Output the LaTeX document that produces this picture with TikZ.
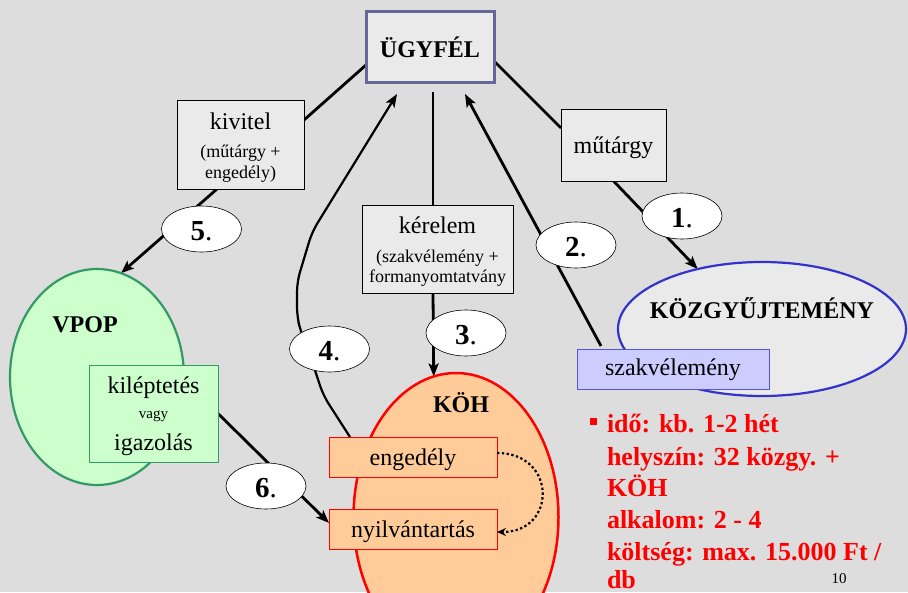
\documentclass[tikz,border=0pt]{standalone}
\usepackage{fontspec}
\setmainfont{Liberation Serif}
\usetikzlibrary{arrows.meta,shapes.geometric,calc}
\definecolor{bgc}{HTML}{DDDDDD}
\definecolor{boxc}{HTML}{EAEAEA}
\definecolor{ugyc}{HTML}{666699}
\definecolor{kozc}{HTML}{3333CC}
\definecolor{szakc}{HTML}{CCCCFF}
\definecolor{szakd}{HTML}{5555CC}
\definecolor{vpopc}{HTML}{CCFFCC}
\definecolor{vpopd}{HTML}{339966}
\definecolor{kohc}{HTML}{FFCC99}
\definecolor{redc}{HTML}{FF0000}
\pgfdeclarelayer{bglayer}
\pgfdeclarelayer{lines}
\pgfsetlayers{bglayer,lines,main}
\begin{document}
\begin{tikzpicture}[x=1pt,y=-1pt,
  every node/.style={inner sep=0pt, outer sep=0pt},
  box/.style={rectangle, draw=black, line width=0.8pt, fill=boxc},
  lab/.style={ellipse, draw=black, line width=0.6pt, fill=white, minimum width=80pt, minimum height=46pt},
  txt/.style={anchor=base, font=\fontsize{24}{28}\selectfont},
  btxt/.style={anchor=base, font=\bfseries\fontsize{24}{28}\selectfont},
  stxt/.style={anchor=base, font=\fontsize{18}{20}\selectfont},
  num/.style={anchor=base, font=\fontsize{29}{32}\selectfont},
  conn/.style={line width=2.8pt, draw=black},
  arr/.style={conn, -{Stealth[length=13pt,width=10pt,inset=3pt]}},
  rtxt/.style={anchor=base west, text=redc, font=\bfseries\fontsize{26}{30}\selectfont},
]
\begin{pgfonlayer}{bglayer}
\fill[bgc] (0,0) rectangle (908,592);
\end{pgfonlayer}
\useasboundingbox (0,0) rectangle (908,592);

% main boxes
\node[box, draw=ugyc, line width=3pt, minimum width=128pt, minimum height=71pt] (ugy) at (430,46.5) {};
\node[btxt] (ugyt) at (430,57) {ÜGYFÉL};

\node[box, minimum width=127pt, minimum height=89pt] (kiv) at (240.5,144.5) {};
\node[txt] (kiv1) at (240.5,129) {kivitel};
\node[stxt] (kiv2) at (240.5,157) {(műtárgy +};
\node[stxt] (kiv3) at (240.5,178) {engedély)};

\node[box, minimum width=105pt, minimum height=72pt] (mut) at (613.5,145) {};
\node[txt] (mutt) at (613.5,153) {műtárgy};

\node[box, minimum width=151pt, minimum height=88pt] (ker) at (437.5,249) {};
\node[txt] (ker1) at (437.5,233) {kérelem};
\node[stxt] (ker2) at (437.5,262) {(szakvélemény +};
\node[stxt] (ker3) at (437.5,282) {formanyomtatvány};

% KÖZGYŰJTEMÉNY
\node[ellipse, draw=kozc, line width=2.2pt, fill=boxc, minimum width=288pt, minimum height=134pt] (koz) at (762,329) {};
\node[btxt] (kozt) at (762,318) {KÖZGYŰJTEMÉNY};
\node[rectangle, draw=szakd, line width=1pt, fill=szakc, minimum width=192pt, minimum height=40pt] (szak) at (673,369) {};
\node[txt] (szakt) at (673,375) {szakvélemény};

% VPOP
\node[ellipse, draw=vpopd, line width=2.2pt, fill=vpopc, minimum width=174pt, minimum height=216pt] (vpop) at (97,377) {};
\node[btxt] (vpopt) at (85,332) {VPOP};
\node[rectangle, draw=vpopd, line width=1pt, fill=vpopc, minimum width=129pt, minimum height=97pt] (kil) at (153.5,413.5) {};
\node[txt] (kil1) at (153.5,393) {kiléptetés};
\node[anchor=base, font=\fontsize{15}{17}\selectfont] (kil2) at (153.5,418) {vagy};
\node[txt] (kil3) at (153.5,450) {igazolás};

% KÖH
\node[ellipse, draw=redc, line width=2.5pt, fill=kohc, minimum width=205pt, minimum height=288pt] (koh) at (456,517) {};
\node[btxt] (koht) at (461,412) {KÖH};
\node[rectangle, draw=redc, line width=1pt, fill=kohc, minimum width=168pt, minimum height=40pt] (eng) at (413,457) {};
\node[txt] (engt) at (413,465) {engedély};
\node[rectangle, draw=redc, line width=1pt, fill=kohc, minimum width=168pt, minimum height=40pt] (nyi) at (413,529) {};
\node[txt] (nyit) at (413,537) {nyilvántartás};

% step labels
\node[lab] (l1) at (682,216) {};
\node[num] (n1) at (682,227.5) {\textbf{1}.};
\node[lab] (l2) at (576,245) {};
\node[num] (n2) at (576,256.5) {\textbf{2}.};
\node[lab] (l3) at (466,333) {};
\node[num] (n3) at (466,344.5) {\textbf{3}.};
\node[lab] (l4) at (329.5,349) {};
\node[num] (n4) at (329.5,360.5) {\textbf{4}.};
\node[lab] (l5) at (201.5,229) {};
\node[num] (n5) at (201.5,240.5) {\textbf{5}.};
\node[lab] (l6) at (266,486) {};
\node[num] (n6) at (266,497.5) {\textbf{6}.};

% connectors
\begin{pgfonlayer}{lines}
\draw[conn] ([yshift=-14.5pt]ugy.east) -- ([yshift=17pt]mut.west);
\draw[arr] (mut.south) -- (koz.137);
\draw[conn] ([yshift=-18.5pt]ugy.west) -- ([yshift=-20pt]kiv.north east);
\draw[arr] ([xshift=-23.5pt]kiv.south) -- (vpop.77);
\draw[conn] ($(ugy.south)+(3,10)$) -- ($(ker.north)+(-4.5,0)$);
\draw[arr] ($(ker.south)+(-4.5,0)$) -- (koh.99);
\draw[arr] ($(szak.north west)+(24,-3)$) -- ($(ugy.south)+(35,12)$);
\draw[arr, line width=2.2pt, rounded corners=10pt] ($(eng.north west)+(21,0)$) -- (323,395) -- (316,373) -- (301,332) -- (297,317) -- (297,282) -- (312,232) -- ($(ugy.south)+(-33,12)$);
\draw[arr] (kil.east) -- ($(nyi.west)+(0,-6)$);
\end{pgfonlayer}
\draw[line width=2.2pt, dash pattern=on 2.4pt off 2.4pt, -{Stealth[length=9pt,width=8pt]}] ([yshift=4pt]eng.east) .. controls +(60,0) and +(60,0) .. ([yshift=-3pt]nyi.east);

% red notes
\node[rectangle, fill=redc, minimum size=7pt] (bul) at (593.5,421.5) {};
\node[rtxt] (r1) at (607,432) {idő: kb. 1-2 hét};
\node[rtxt] (r2) at (607,465) {helyszín: 32 közgy. +};
\node[rtxt] (r3) at (607,496) {KÖH};
\node[rtxt] (r4) at (607,528) {alkalom: 2 - 4};
\node[rtxt] (r5) at (607,560) {költség: max. 15.000 Ft /};
\node[rtxt] (r6) at (607,588) {db};
\node[anchor=base, font=\fontsize{15}{18}\selectfont] (pg) at (839,583) {10};
\end{tikzpicture}
\end{document}
